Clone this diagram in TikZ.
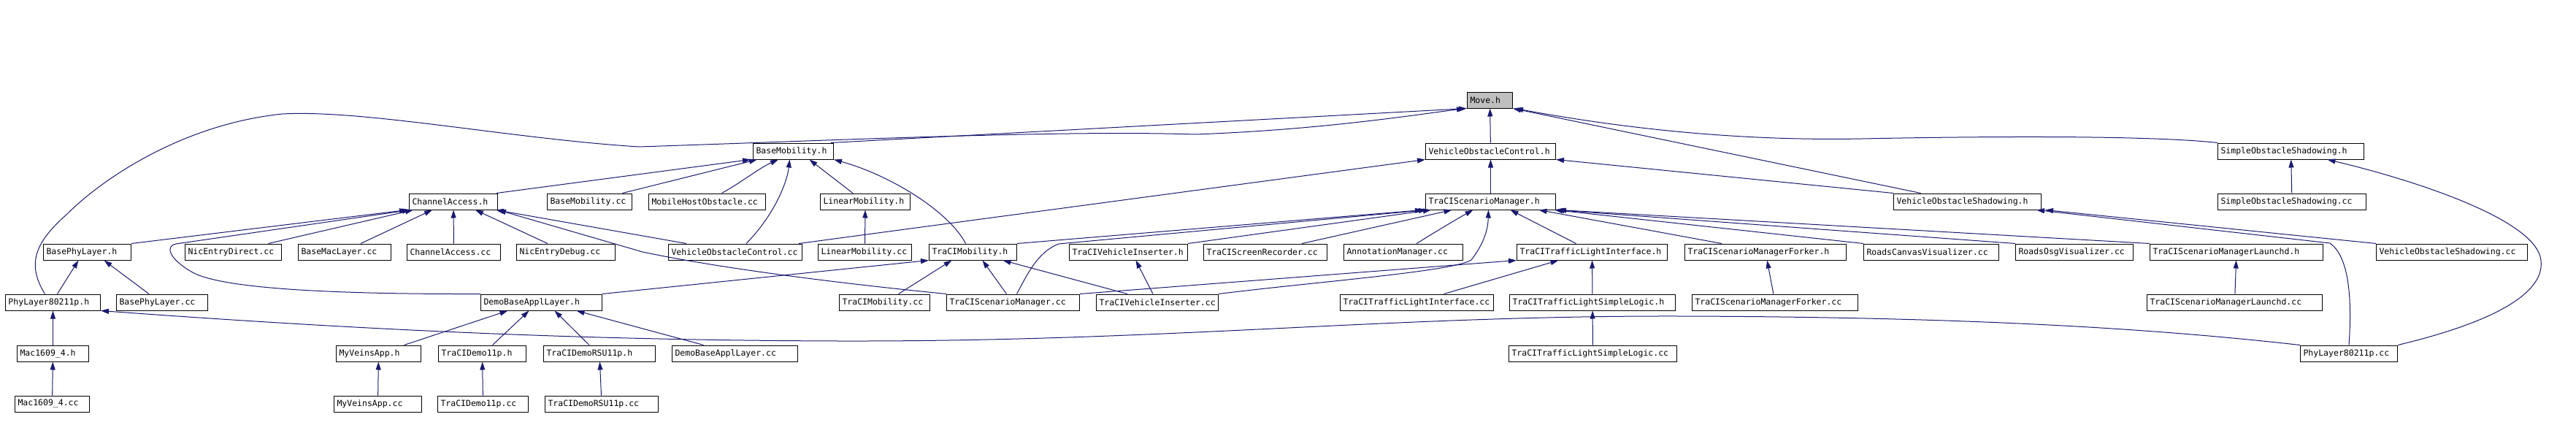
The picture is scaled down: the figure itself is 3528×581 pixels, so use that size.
\documentclass[tikz,border=0pt]{standalone}
\usepackage{fontspec}
\usepackage{tikz}
\usetikzlibrary{arrows.meta}
\newfontfamily\dotfont{DejaVu Sans Mono}
\definecolor{dotblue}{RGB}{25,25,112}
\definecolor{movegray}{RGB}{191,191,191}
\tikzset{
  hdr/.style={draw=black,fill=white,line width=1pt,anchor=west,align=left,
              font=\dotfont\fontsize{11.5}{12}\selectfont,
              inner xsep=4pt,inner ysep=0pt,minimum height=22pt},
  dep/.style={draw=dotblue,line width=1pt,-{Triangle[length=11pt,width=7pt]}},
}

\begin{document}
\begin{tikzpicture}[x=1pt,y=-1pt]
        \useasboundingbox (0,0) rectangle (3528,581);
        % row 0 and 1
        \node[hdr,fill=movegray,text width=54pt] (move) at (2009,137) {Move.h};
        \node[hdr,text width=102pt] (basemob) at (1031,207) {BaseMobility.h};
        \node[hdr,text width=170pt] (vocH) at (1952,207) {VehicleObstacleControl.h};
        \node[hdr,text width=192pt] (sosH) at (3037,207) {SimpleObstacleShadowing.h};
        % row 2
        \node[hdr,text width=113pt] (chanH) at (560,276) {ChannelAccess.h};
        \node[hdr,text width=108pt] (basemobCC) at (749,276) {BaseMobility.cc};
        \node[hdr,text width=152pt] (mhoCC) at (888,276) {MobileHostObstacle.cc};
        \node[hdr,text width=115pt] (linH) at (1123,276) {LinearMobility.h};
        \node[hdr,text width=170pt] (tsmH) at (1952,276) {TraCIScenarioManager.h};
        \node[hdr,text width=194pt] (vosH) at (2593,276) {VehicleObstacleShadowing.h};
        \node[hdr,text width=195pt] (sosCC) at (3037,276) {SimpleObstacleShadowing.cc};
        % row 3
        \node[hdr,text width=112pt] (bplH) at (59,345) {BasePhyLayer.h};
        \node[hdr,text width=124pt] (nedCC) at (253,345) {NicEntryDirect.cc};
        \node[hdr,text width=119pt] (bmlCC) at (408,345) {BaseMacLayer.cc};
        \node[hdr,text width=120pt] (chanCC) at (557,345) {ChannelAccess.cc};
        \node[hdr,text width=127pt] (nedbgCC) at (707,345) {NicEntryDebug.cc};
        \node[hdr,text width=175pt] (vocCC) at (915,345) {VehicleObstacleControl.cc};
        \node[hdr,text width=120pt] (linCC) at (1120,345) {LinearMobility.cc};
        \node[hdr,text width=112pt] (tmobH) at (1272,345) {TraCIMobility.h};
        \node[hdr,text width=154pt] (tviH) at (1464,345) {TraCIVehicleInserter.h};
        \node[hdr,text width=161pt] (tsrCC) at (1648,345) {TraCIScreenRecorder.cc};
        \node[hdr,text width=155pt] (amCC) at (1840,345) {AnnotationManager.cc};
        \node[hdr,text width=198pt] (ttliH) at (2077,345) {TraCITrafficLightInterface.h};
        \node[hdr,text width=213pt] (tsmfH) at (2307,345) {TraCIScenarioManagerForker.h};
        \node[hdr,text width=177pt] (rcvCC) at (2552,345) {RoadsCanvasVisualizer.cc};
        \node[hdr,text width=153pt] (rovCC) at (2760,345) {RoadsOsgVisualizer.cc};
        \node[hdr,text width=229pt] (tsmlH) at (2944,345) {TraCIScenarioManagerLaunchd.h};
        \node[hdr,text width=199pt] (vosCC) at (3254,345) {VehicleObstacleShadowing.cc};
        % row 4
        \node[hdr,text width=122pt] (pl80H) at (7,414) {PhyLayer80211p.h};
        \node[hdr,text width=117pt] (bplCC) at (159,414) {BasePhyLayer.cc};
        \node[hdr,text width=158pt] (dbalH) at (658,414) {DemoBaseApplLayer.h};
        \node[hdr,text width=116pt] (tmobCC) at (1149,414) {TraCIMobility.cc};
        \node[hdr,text width=174pt] (tsmCC) at (1296,414) {TraCIScenarioManager.cc};
        \node[hdr,text width=159pt] (tviCC) at (1501,414) {TraCIVehicleInserter.cc};
        \node[hdr,text width=202pt] (ttliCC) at (1835,414) {TraCITrafficLightInterface.cc};
        \node[hdr,text width=219pt] (ttlslH) at (2067,414) {TraCITrafficLightSimpleLogic.h};
        \node[hdr,text width=219pt] (tsmfCC) at (2317,414) {TraCIScenarioManagerForker.cc};
        \node[hdr,text width=232pt] (tsmlCC) at (2940,414) {TraCIScenarioManagerLaunchd.cc};
        % row 5 and 6
        \node[hdr,text width=90pt] (mac16H) at (23,484) {Mac1609\_4.h};
        \node[hdr,text width=108pt] (mvaH) at (460,484) {MyVeinsApp.h};
        \node[hdr,text width=112pt] (td11H) at (600,484) {TraCIDemo11p.h};
        \node[hdr,text width=145pt] (trsuH) at (744,484) {TraCIDemoRSU11p.h};
        \node[hdr,text width=164pt] (dbalCC) at (920,484) {DemoBaseApplLayer.cc};
        \node[hdr,text width=222pt] (ttlslCC) at (2066,484) {TraCITrafficLightSimpleLogic.cc};
        \node[hdr,text width=125pt] (pl80CC) at (3150,484) {PhyLayer80211p.cc};
        \node[hdr,text width=94pt] (mac16CC) at (20,553) {Mac1609\_4.cc};
        \node[hdr,text width=112pt] (mvaCC) at (457,553) {MyVeinsApp.cc};
        \node[hdr,text width=116pt] (td11CC) at (599,553) {TraCIDemo11p.cc};
        \node[hdr,text width=147pt] (trsuCC) at (746,553) {TraCIDemoRSU11p.cc};

        % into Move.h
        \draw[dep] (vocH) -- (move);
        \draw[dep] ([xshift=-4pt]basemob.north east) -- (move.south west);
        \draw[dep] ([xshift=-11pt]pl80H.north) .. controls (35,360) and (50,330) .. (92,293)
          .. controls (140,245) and (250,170) .. (387,156) .. controls (500,150) and (700,190) .. (875,201)
          .. controls (1150,192) and (1450,178) .. (1637,184) .. controls (1800,178) and (1920,160) .. ([xshift=-3pt]move.south west);
        \draw[dep] (sosH.north west) .. controls (2950,186) and (2750,186) .. (2550,190)
          .. controls (2350,194) and (2180,168) .. ([xshift=3pt]move.south east);
        \draw[dep] ([xshift=-64pt]vosH.north) -- (move.south east);
        % into VehicleObstacleControl.h
        \draw[dep] (vosH.north west) -- (vocH.south east);
        \draw[dep] ([xshift=-5pt]vocCC.north east) -- (vocH.south west);
        \draw[dep] (tsmH) -- (vocH);
        % into BaseMobility.h
        \draw[dep] ([xshift=-2pt]chanH.north east) -- ([xshift=-3pt]basemob.south west);
        \draw[dep] ([xshift=45pt]basemobCC.north) -- ([xshift=6pt]basemob.south west);
        \draw[dep] ([xshift=20pt]mhoCC.north) .. controls (1015,250) and (1040,230) .. ([xshift=35pt]basemob.south west);
        \draw[dep] ([xshift=15pt]vocCC.north) .. controls (1060,295) and (1078,250) .. ([xshift=-5pt]basemob.south);
        \draw[dep] ([xshift=-17pt]linH.north) -- ([xshift=22pt]basemob.south);
        \draw[dep] ([xshift=-10pt]tmobH.north) .. controls (1300,290) and (1220,240) .. (basemob.south east);
        % into ChannelAccess.h
        \draw[dep] (bplH.north east) -- ([xshift=-2pt]chanH.south west);
        \draw[dep] (dbalH.north west) .. controls (450,403) and (300,395) .. (262,372)
          .. controls (228,352) and (228,336) .. (241,334) -- ([xshift=2pt]chanH.south west);
        \draw[dep] ([xshift=48pt]nedCC.north) -- ([xshift=6pt]chanH.south west);
        \draw[dep] ([xshift=22pt]bmlCC.north) -- ([xshift=32pt]chanH.south west);
        \draw[dep] (chanCC) -- (chanH);
        \draw[dep] ([xshift=-25pt]nedbgCC.north) -- ([xshift=30pt]chanH.south);
        \draw[dep] ([xshift=25pt]vocCC.north west) -- ([xshift=-3pt]chanH.south east);
        \draw[dep] (tsmCC.north west) .. controls (1100,383) and (960,362) .. (880,345) -- (chanH.south east);
        % PhyLayer and Mac
        \draw[dep] ([xshift=6pt]pl80H.north) -- ([xshift=-12pt]bplH.south);
        \draw[dep] ([xshift=-18pt]bplCC.north) -- ([xshift=23pt]bplH.south);
        \draw[dep] (mac16H) -- (pl80H);
        \draw[dep] (mac16CC) -- (mac16H);
        \draw[dep] (pl80CC.north west) .. controls (2950,450) and (2700,434) .. (2300,433)
          .. controls (1900,432) and (1600,468) .. (1150,467) .. controls (800,466) and (500,452) .. (pl80H.south east);
        % shadowing
        \draw[dep] (sosCC) -- (sosH);
        \draw[dep] (pl80CC.north east) .. controls (3420,440) and (3485,400) .. (3480,357)
          .. controls (3475,300) and (3300,245) .. ([xshift=50pt]sosH.south);
        \draw[dep] (vosCC.north west) -- ([xshift=5pt]vosH.south east);
        \draw[dep] (pl80CC.north) .. controls (3222,400) and (3215,350) .. (3191,333) -- ([xshift=-7pt]vosH.south east);
        % scenario manager family
        \draw[dep] (tsmlCC) -- (tsmlH);
        \draw[dep] (tsmfCC) -- (tsmfH);
        \draw[dep] (ttlslH) -- (ttliH);
        \draw[dep] (ttlslCC) -- (ttlslH);
        \draw[dep] ([xshift=37pt]ttliCC.north) -- ([xshift=-46pt]ttliH.south);
        \draw[dep] (tsmCC.north east) -- (ttliH.south west);
        % into TraCIScenarioManager.h
        \draw[dep] (tmobH.north east) -- ([xshift=-3pt]tsmH.south west);
        \draw[dep] ([xshift=5pt]tsmCC.north) .. controls (1405,380) and (1420,345) .. (1450,334) -- ([xshift=2pt]tsmH.south west);
        \draw[dep] (tviH.north east) -- ([xshift=8pt]tsmH.south west);
        \draw[dep] ([xshift=50pt]tsrCC.north) -- ([xshift=-53pt]tsmH.south);
        \draw[dep] ([xshift=18pt]amCC.north) .. controls (1965,318) and (1995,300) .. ([xshift=-24pt]tsmH.south);
        \draw[dep] (tviCC.north east) .. controls (1800,386) and (1990,372) .. (2015,356)
          .. controls (2035,330) and (2038,310) .. ([xshift=-3pt]tsmH.south);
        \draw[dep] ([xshift=-22pt]ttliH.north) -- ([xshift=27pt]tsmH.south);
        \draw[dep] ([xshift=-60pt]tsmfH.north) -- ([xshift=66pt]tsmH.south);
        \draw[dep] (rcvCC.north west) -- ([xshift=-2pt]tsmH.south east);
        \draw[dep] (rovCC.north west) -- (tsmH.south east);
        \draw[dep] (tsmlH.north west) -- ([xshift=3pt]tsmH.south east);
        % into TraCIMobility.h and TraCIVehicleInserter.h
        \draw[dep] (dbalH.north east) -- (tmobH.south west);
        \draw[dep] ([xshift=19pt]tmobCC.north) -- ([xshift=-29pt]tmobH.south);
        \draw[dep] ([xshift=-9pt]tsmCC.north) -- ([xshift=13pt]tmobH.south);
        \draw[dep] ([xshift=-41pt]tviCC.north) -- ([xshift=41pt]tmobH.south);
        \draw[dep] ([xshift=-6pt]tviCC.north) -- ([xshift=10pt]tviH.south);
        \draw[dep] (linCC) -- (linH);
        % into DemoBaseApplLayer.h
        \draw[dep] ([xshift=35pt]mvaH.north) -- ([xshift=-46pt]dbalH.south);
        \draw[dep] ([xshift=14pt]td11H.north) -- ([xshift=-17pt]dbalH.south);
        \draw[dep] ([xshift=-14pt]trsuH.north) -- ([xshift=18pt]dbalH.south);
        \draw[dep] ([xshift=-43pt]dbalCC.north) -- ([xshift=48pt]dbalH.south);
        \draw[dep] (mvaCC) -- (mvaH);
        \draw[dep] (td11CC) -- (td11H);
        \draw[dep] (trsuCC) -- (trsuH);
      \end{tikzpicture}
\end{document}
